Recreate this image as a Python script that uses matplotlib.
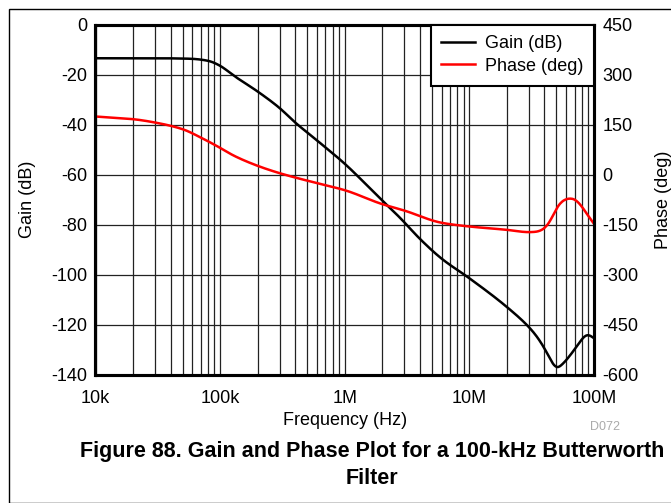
import numpy as np
import matplotlib
matplotlib.use("Agg")
import matplotlib.pyplot as plt
from matplotlib.patches import Rectangle
from matplotlib.ticker import FixedLocator, NullFormatter

plt.rcParams['font.family'] = ['Liberation Sans', 'DejaVu Sans']
plt.rcParams['axes.unicode_minus'] = False

# gain curve
gain_freq = [1e4, 3e4, 5.8e4, 8e4, 1e5, 1.28e5, 2e5, 3e5, 4e5, 6e5, 1e6, 1.93e6,
             2.8e6, 4e6, 6e6, 1e7, 2e7, 3e7, 3.5e7, 4e7, 4.5e7, 5e7, 5.5e7,
             6e7, 7e7, 8e7, 8.8e7, 1e8]
gain_db = [-13.5, -13.5, -13.7, -14.5, -16.5, -20.4, -26.8, -33.4, -39.2, -46.4, -55.7, -69.7,
           -77.5, -85.7, -93.7, -101.5, -113.0, -121.0, -125.0, -129.5, -134.2, -137.5, -136.2,
           -134.2, -129.9, -125.9, -123.9, -125.5]

# phase curve
phase_freq = [1e4, 2e4, 3e4, 5e4, 6.9e4, 1e5, 1.28e5, 2e5, 3e5, 6e5, 1e6, 2e6, 3e6,
              6e6, 1e7, 2e7, 3e7, 3.5e7, 4e7, 4.5e7, 5e7, 5.5e7, 6e7, 6.5e7,
              7e7, 8e7, 9e7, 1e8]
phase_deg = [174, 166, 156, 136, 112, 80, 57, 26, 4, -26, -47, -89, -108,
             -145, -156, -166, -173, -171.5, -161.5, -136.5, -101.5, -81.5, -73.5, -71.5,
             -74.5, -96.5, -124.5, -148]

x_ticks = [1e4, 1e5, 1e6, 1e7, 1e8]
x_labels = ['10k', '100k', '1M', '10M', '100M']
gain_ticks = list(range(-140, 1, 20))
phase_ticks = list(range(-600, 451, 150))

W, H = 671, 503
fig = plt.figure(figsize=(W / 100, H / 100), dpi=100)
ax = fig.add_axes([95.5 / W, 1 - 374.5 / H, (594 - 95.5) / W, (374.5 - 24.5) / H])


# monotone cubic (pchip) through the read points in log-frequency space,
# then a short moving average to take out reading jitter
def pchip(fx, fy, n=800, k=6):
    x = np.log10(np.asarray(fx, float))
    y = np.asarray(fy, float)
    h = np.diff(x)
    d = np.diff(y) / h
    m = np.zeros_like(y)
    for i in range(1, len(y) - 1):
        if d[i - 1] * d[i] > 0:
            w1 = 2 * h[i] + h[i - 1]
            w2 = h[i] + 2 * h[i - 1]
            m[i] = (w1 + w2) / (w1 / d[i - 1] + w2 / d[i])
    m[0] = d[0]
    m[-1] = d[-1]
    xs = np.linspace(x[0], x[-1], n)
    idx = np.clip(np.searchsorted(x, xs) - 1, 0, len(h) - 1)
    t = (xs - x[idx]) / h[idx]
    h00 = 2 * t**3 - 3 * t**2 + 1
    h10 = t**3 - 2 * t**2 + t
    h01 = -2 * t**3 + 3 * t**2
    h11 = t**3 - t**2
    ys = (h00 * y[idx] + h10 * h[idx] * m[idx]
          + h01 * y[idx + 1] + h11 * h[idx] * m[idx + 1])
    pad = np.pad(ys, k, mode='reflect', reflect_type='odd')
    ys = np.convolve(pad, np.ones(2 * k + 1) / (2 * k + 1), mode='valid')
    return 10 ** xs, ys


gx, gy = pchip(gain_freq, gain_db)
px, py = pchip(phase_freq, phase_deg)

ax.set_xscale('log')
ax.set_xlim(1e4, 1e8)
ax.set_ylim(-140, 0)
ax.xaxis.set_major_locator(FixedLocator(x_ticks))
ax.set_xticklabels(x_labels)
ax.xaxis.set_minor_locator(FixedLocator(
    [m * 10 ** e for e in range(4, 8) for m in range(2, 10)]))
ax.xaxis.set_minor_formatter(NullFormatter())
ax.set_yticks(gain_ticks)
ax.grid(True, which='both', axis='x', color='#222222', lw=0.9)
ax.grid(True, which='major', axis='y', color='#222222', lw=0.9)
ax.tick_params(axis='y', which='both', length=0, labelsize=13, pad=6)
ax.tick_params(axis='x', which='both', length=0, labelsize=13, pad=11)
for s in ax.spines.values():
    s.set_linewidth(2.2)

ax2 = ax.twinx()
ax2.set_ylim(-600, 450)
ax2.set_yticks(phase_ticks)
ax2.tick_params(length=0, labelsize=13, pad=6)
for s in ax2.spines.values():
    s.set_linewidth(2.2)

l1, = ax2.plot(gx, gy * 7.5 + 450, color='black', lw=1.8, label='Gain (dB)')
l2, = ax2.plot(px, py, color='#ff0000', lw=1.8, label='Phase (deg)')

leg = ax2.legend(handles=[l1, l2], loc='upper right', fontsize=13,
                 fancybox=False, framealpha=1, edgecolor='black',
                 borderaxespad=0, handlelength=1.85, handletextpad=0.55,
                 borderpad=0.6, labelspacing=0.3)
leg.get_frame().set_linewidth(1.5)

ax.set_xlabel('Frequency (Hz)', fontsize=13, labelpad=4)
ax.set_ylabel('Gain (dB)', fontsize=13, labelpad=11)
ax2.set_ylabel('Phase (deg)', fontsize=13, labelpad=12)

fig.text(605 / W, 1 - 427 / H, 'D072', color='#aaaaaa', fontsize=9,
         ha='center', va='center')
fig.text(372 / W, 1 - 452 / H,
         'Figure 88. Gain and Phase Plot for a 100-kHz Butterworth',
         fontsize=15.5, fontweight='bold', ha='center', va='center')
fig.text(372 / W, 1 - 478 / H, 'Filter', fontsize=15.5, fontweight='bold',
         ha='center', va='center')

fig.patches.append(Rectangle((8.5 / W, 0), 1, 1 - 9 / H, transform=fig.transFigure,
                             fill=False, edgecolor='black', lw=1))

fig.savefig('out.png', dpi=100)
